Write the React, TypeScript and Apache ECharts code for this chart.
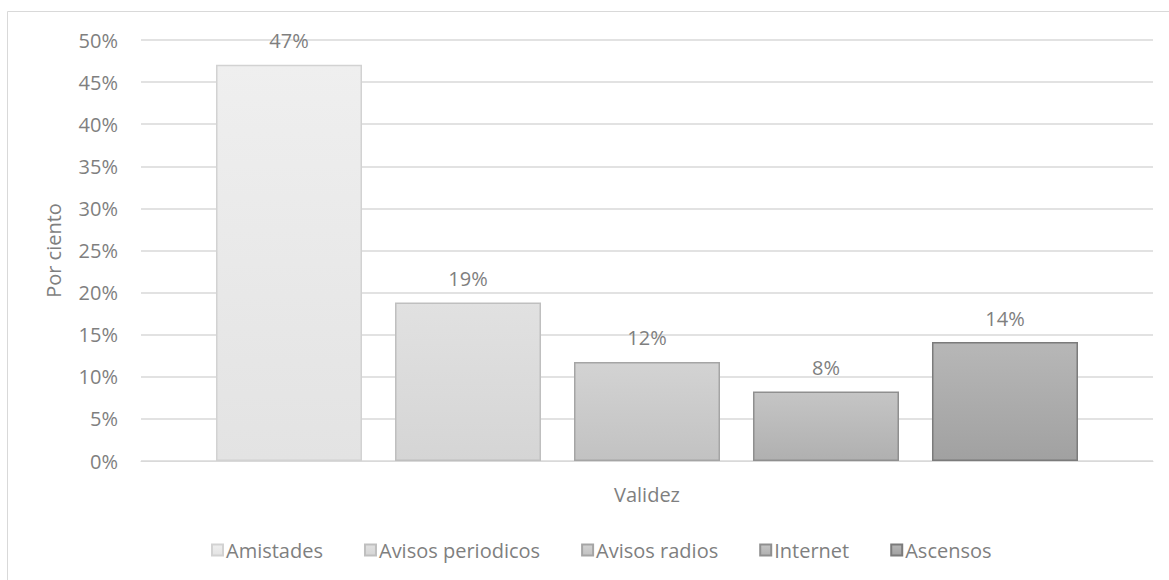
import React, { useEffect, useRef } from "react";
import * as echarts from "echarts";

const categories = ["Validez"];
const seriesNames = ["Amistades", "Avisos periodicos", "Avisos radios", "Internet", "Ascensos"];
const seriesValues = [47.06, 18.82, 11.76, 8.24, 14.12];
const yTicks = [0, 5, 10, 15, 20, 25, 30, 35, 40, 45, 50];

const fillTop = ["#efefef", "#e1e1e1", "#d3d3d3", "#c5c5c5", "#b7b7b7"];
const fillBottom = ["#e3e3e3", "#d5d5d5", "#c2c2c2", "#b0b0b0", "#a1a1a1"];
const borders = ["#d2d2d2", "#bfbfbf", "#a5a5a5", "#8f8f8f", "#7b7b7b"];

const FONT = "Open Sans";
const TEXT = "#7f7f7f";
const FS = 20;

export default function App() {
  const ref = useRef<HTMLDivElement>(null);
  useEffect(() => {
    if (!ref.current) return;
    const chart = echarts.init(ref.current, null, { renderer: "svg" });
    chart.setOption({
      animation: false,
      backgroundColor: "#ffffff",
      textStyle: { fontFamily: FONT },
      graphic: [
        {
          type: "rect",
          shape: { x: 7.5, y: 11.5, width: 1200, height: 600 },
          style: { fill: "none", stroke: "#d9d9d9", lineWidth: 1 },
          silent: true,
          z: -10,
        },
      ],
      grid: { left: 141, right: 16, top: 40, bottom: 119, containLabel: false },
      legend: {
        data: seriesNames,
        left: 206,
        top: 535,
        icon: "rect",
        itemWidth: 11,
        itemHeight: 11,
        itemGap: 41,
        textStyle: { color: TEXT, fontSize: FS, fontFamily: FONT, padding: [0, 0, 0, -2] },
      },
      xAxis: {
        type: "category",
        data: categories,
        axisLine: { show: true, lineStyle: { color: "#d9d9d9", width: 1 } },
        axisTick: { show: false },
        axisLabel: { color: TEXT, fontSize: FS, fontFamily: FONT, margin: 23 },
      },
      yAxis: {
        type: "value",
        min: yTicks[0],
        max: yTicks[yTicks.length - 1],
        interval: 5,
        name: "Por ciento",
        nameLocation: "middle",
        nameGap: 78,
        nameRotate: 90,
        nameTextStyle: { color: TEXT, fontSize: FS, fontFamily: FONT },
        axisLine: { show: false },
        axisTick: { show: false },
        axisLabel: { color: TEXT, fontSize: FS, fontFamily: FONT, margin: 23, formatter: "{value}%" },
        splitLine: { lineStyle: { color: "#d9d9d9", width: 1.5 } },
      },
      series: seriesNames.map((name, i) => ({
        name,
        type: "bar",
        data: [seriesValues[i]],
        barWidth: 146,
        barGap: "22.6%",
        itemStyle: {
          color: new echarts.graphic.LinearGradient(0, 0, 0, 1, [
            { offset: 0, color: fillTop[i] },
            { offset: 1, color: fillBottom[i] },
          ]),
          borderColor: borders[i],
          borderWidth: 1.5,
        },
        label: {
          show: true,
          position: "top",
          distance: 14,
          color: TEXT,
          fontSize: FS,
          fontFamily: FONT,
          formatter: (p: any) => Math.round(p.value) + "%",
        },
      })),
    });
    return () => chart.dispose();
  }, []);
  return (
    <div
      ref={ref}
      style={{ position: "absolute", left: 0, top: 0, width: 1169, height: 580 }}
    />
  );
}
